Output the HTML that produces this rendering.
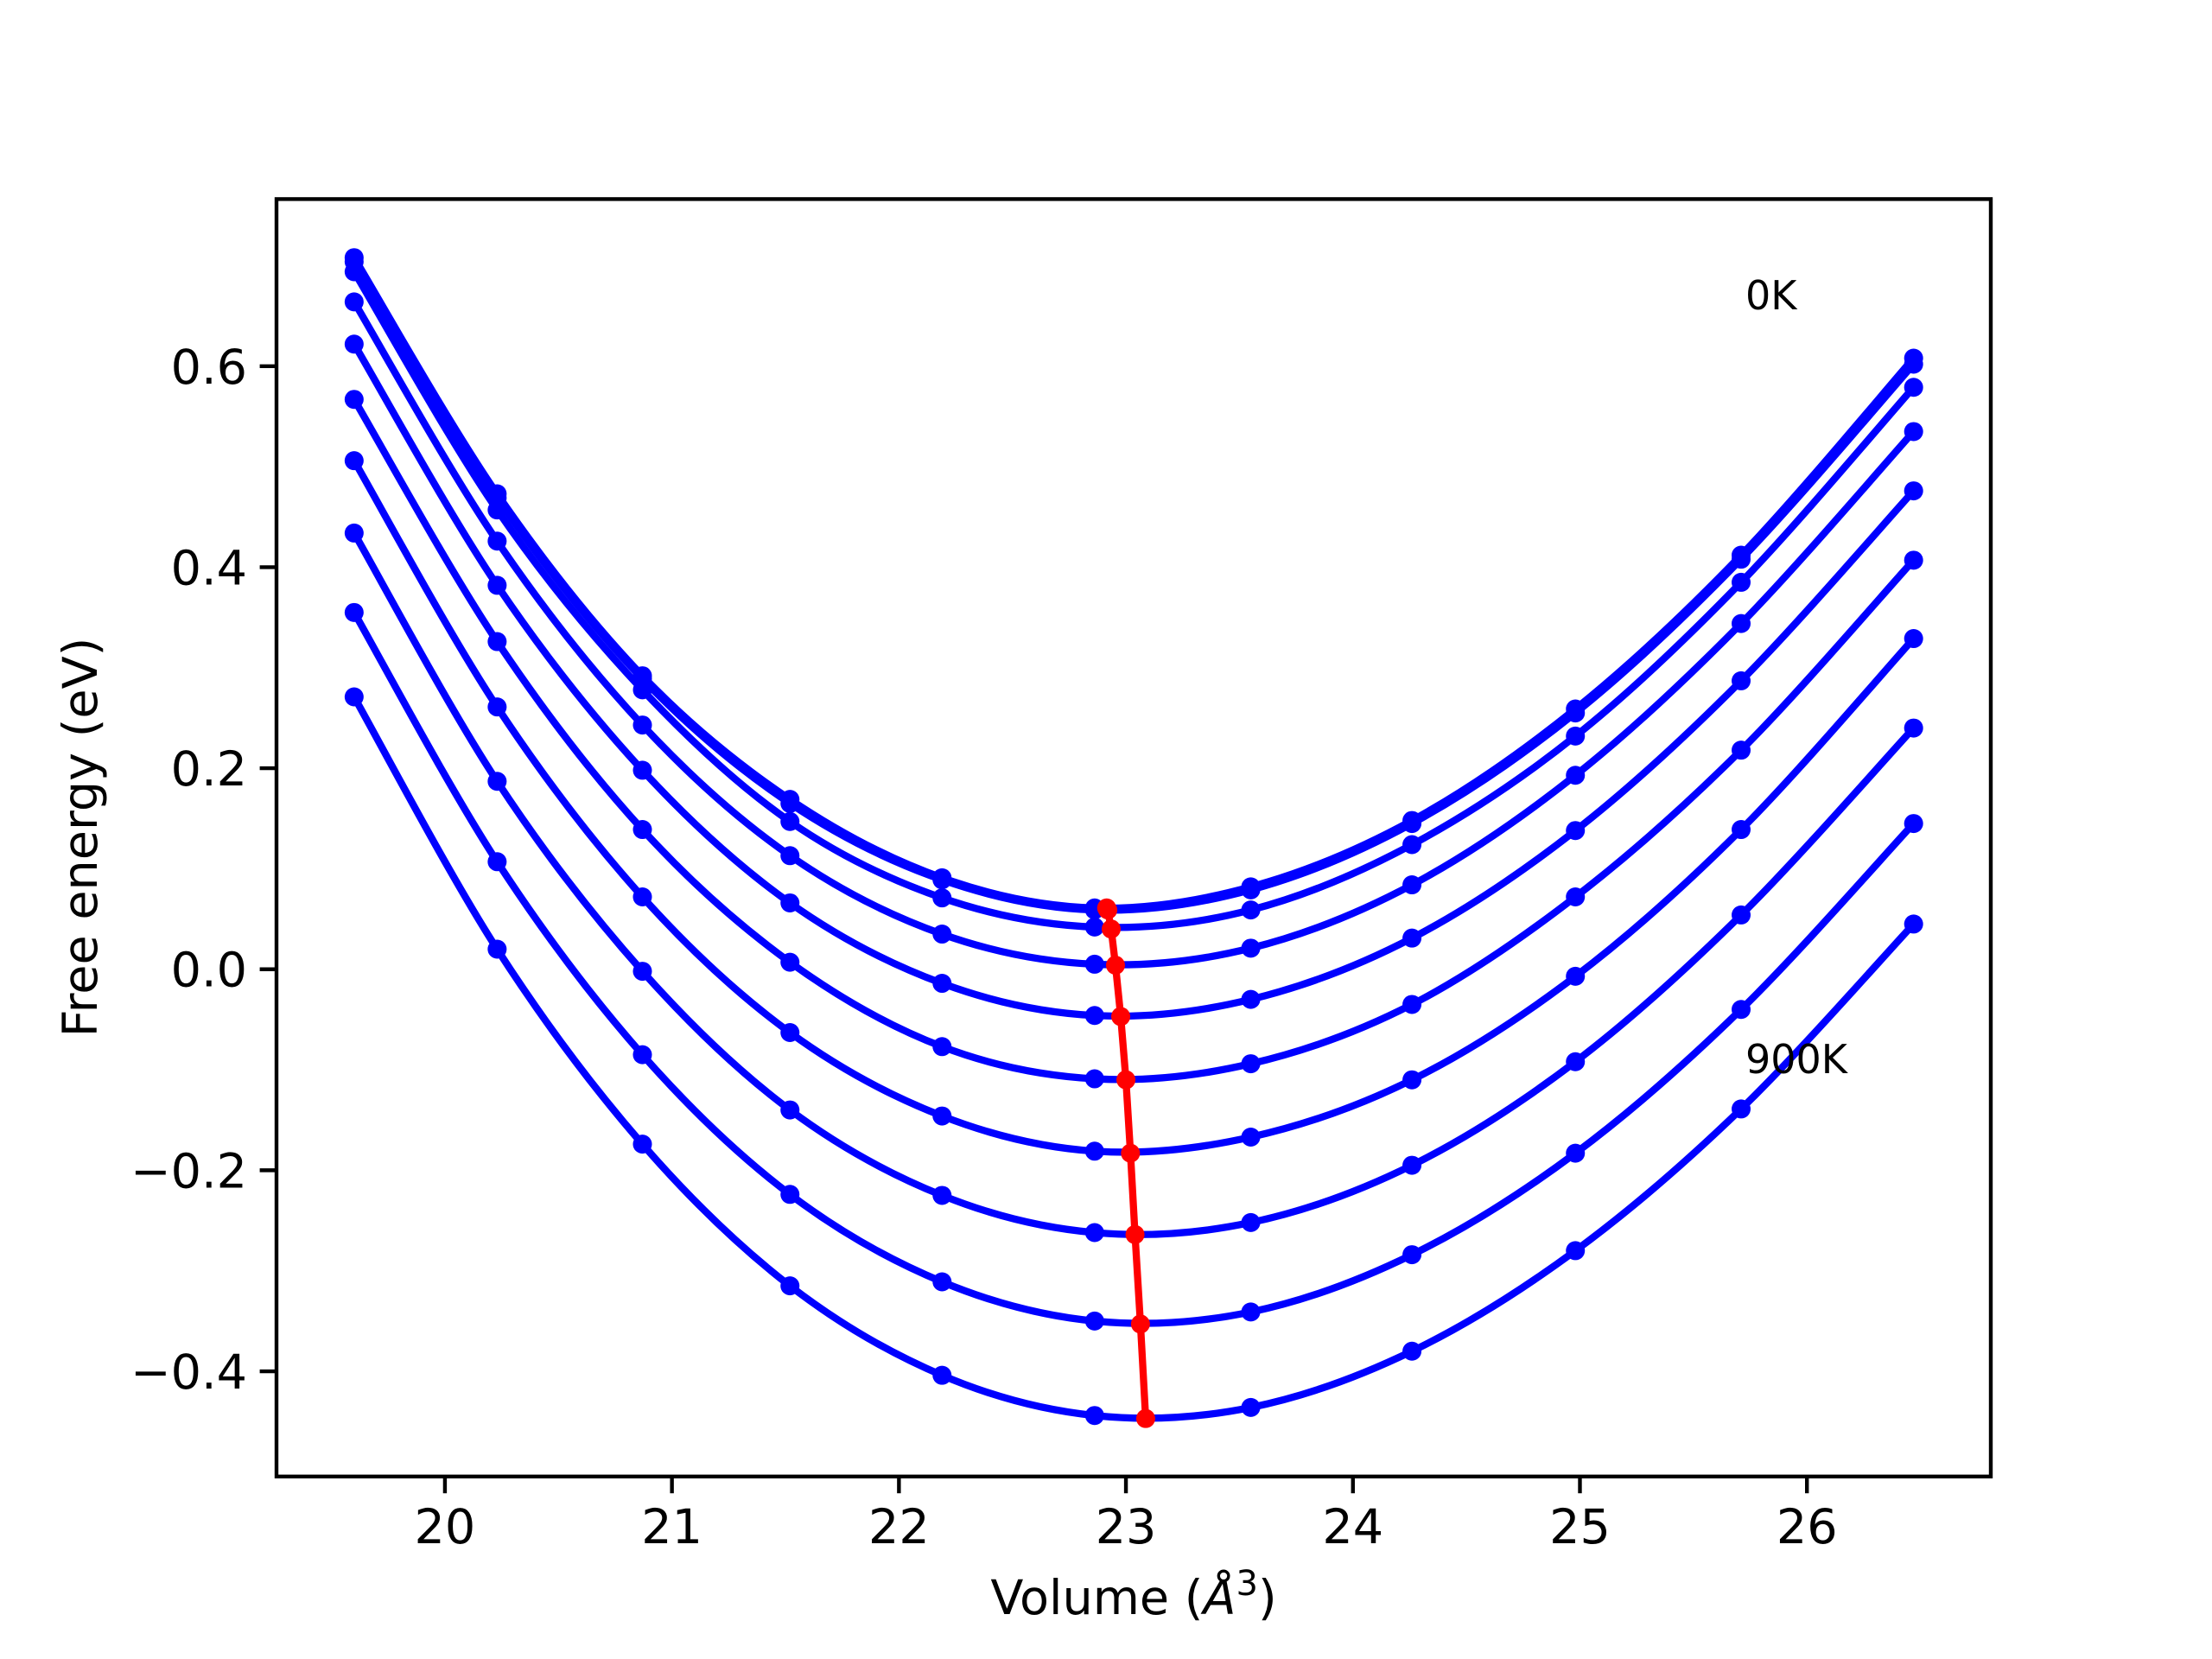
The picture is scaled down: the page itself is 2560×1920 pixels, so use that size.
<!DOCTYPE html>
<html><head><meta charset="utf-8"><style>
html,body{margin:0;padding:0;background:#fff;}
svg{display:block;font-family:"DejaVu Sans","Liberation Sans",sans-serif;}
</style></head><body>
<svg id="chart" width="2560" height="1920" viewBox="0 0 2560 1920" xmlns="http://www.w3.org/2000/svg">
<rect x="0" y="0" width="2560" height="1920" fill="#fff"/>
<g id="plot"></g>
<g id="axes"></g>
</svg>
<script>
const volumes = [19.60, 20.23, 20.87, 21.52, 22.19, 22.862, 23.55, 24.26, 24.98, 25.71, 26.47];
const curve0 = [0.708, 0.473, 0.292, 0.169, 0.091, 0.061, 0.082, 0.148, 0.259, 0.412, 0.608];
const curve1 = [0.704, 0.469, 0.289, 0.165, 0.089, 0.059, 0.079, 0.145, 0.255, 0.408, 0.602];
const curve2 = [0.694, 0.457, 0.278, 0.147, 0.071, 0.042, 0.059, 0.124, 0.232, 0.385, 0.579];
const curve3 = [0.664, 0.426, 0.243, 0.113, 0.035, 0.005, 0.021, 0.084, 0.193, 0.344, 0.535];
const curve4 = [0.622, 0.382, 0.198, 0.066, -0.014, -0.046, -0.030, 0.031, 0.138, 0.287, 0.476];
const curve5 = [0.567, 0.326, 0.139, 0.007, -0.077, -0.109, -0.094, -0.035, 0.072, 0.218, 0.407];
const curve6 = [0.506, 0.261, 0.072, -0.063, -0.146, -0.181, -0.167, -0.110, -0.007, 0.139, 0.329];
const curve7 = [0.434, 0.187, -0.002, -0.140, -0.225, -0.262, -0.252, -0.195, -0.092, 0.054, 0.240];
const curve8 = [0.355, 0.107, -0.085, -0.224, -0.311, -0.350, -0.341, -0.284, -0.183, -0.040, 0.145];
const curve9 = [0.271, 0.020, -0.174, -0.315, -0.404, -0.444, -0.436, -0.380, -0.280, -0.139, 0.045];
const minVolumes = [22.915, 22.92, 22.935, 22.954, 22.977, 23.0, 23.02, 23.04, 23.064, 23.087];
const minEnergies = [0.061, 0.059, 0.040, 0.004, -0.047, -0.110, -0.183, -0.264, -0.353, -0.447];
const xTicks = [20, 21, 22, 23, 24, 25, 26];
const yTicks = [-0.4, -0.2, 0.0, 0.2, 0.4, 0.6];
const yTickLabels = ["\u22120.4", "\u22120.2", "0.0", "0.2", "0.4", "0.6"];
const curves = [curve0, curve1, curve2, curve3, curve4, curve5, curve6, curve7, curve8, curve9];

const AX = {l: 320, r: 2304, t: 230.4, b: 1708.8};
const X0 = 19.258, X1 = 26.810, Y0 = -0.5047, Y1 = 0.7663;
function sx(v){ return AX.l + (v - X0) / (X1 - X0) * (AX.r - AX.l); }
function sy(v){ return AX.b - (v - Y0) / (Y1 - Y0) * (AX.b - AX.t); }
const NS = "http://www.w3.org/2000/svg";
function mk(tag, attrs, parent){ const e = document.createElementNS(NS, tag); for (const k in attrs) e.setAttribute(k, attrs[k]); parent.appendChild(e); return e; }
const plot = document.getElementById('plot');
const axes = document.getElementById('axes');

function smoothPath(pts){
  let d = "M" + pts[0][0].toFixed(2) + "," + pts[0][1].toFixed(2);
  for (let i = 0; i < pts.length - 1; i++){
    const p0 = pts[Math.max(i-1,0)], p1 = pts[i], p2 = pts[i+1], p3 = pts[Math.min(i+2, pts.length-1)];
    const c1x = p1[0] + (p2[0]-p0[0])/6, c1y = p1[1] + (p2[1]-p0[1])/6;
    const c2x = p2[0] - (p3[0]-p1[0])/6, c2y = p2[1] - (p3[1]-p1[1])/6;
    d += " C" + c1x.toFixed(2)+","+c1y.toFixed(2)+" "+c2x.toFixed(2)+","+c2y.toFixed(2)+" "+p2[0].toFixed(2)+","+p2[1].toFixed(2);
  }
  return d;
}

curves.forEach((c, ci) => {
  const pts = c.map((v, i) => [sx(volumes[i]), sy(v)]);
  const p = mk('path', {d: smoothPath(pts), fill: 'none', stroke: '#0000ff', 'stroke-width': 8.3, 'stroke-linejoin': 'round', 'stroke-linecap': 'square'}, plot);
  
  
  c.forEach((v, i) => {
    const m = mk('circle', {cx: sx(volumes[i]), cy: sy(v), r: 11, fill: '#0000ff'}, plot);
    
    
  });
});
const redPts = minVolumes.map((v, i) => sx(v).toFixed(2) + "," + sy(minEnergies[i]).toFixed(2)).join(" ");
const rl = mk('polyline', {points: redPts, fill: 'none', stroke: '#ff0000', 'stroke-width': 8.3, 'stroke-linejoin': 'round'}, plot);


minVolumes.forEach((v, i) => {
  const m = mk('circle', {cx: sx(v), cy: sy(minEnergies[i]), r: 11, fill: '#ff0000'}, plot);
  
  
});

const t0 = mk('text', {x: 2020, y: 358, 'font-size': 46, fill: '#000'}, plot);
t0.textContent = '0K';


const t9 = mk('text', {x: 2020, y: 1242, 'font-size': 46, fill: '#000'}, plot);
t9.textContent = '900K';



xTicks.forEach(v => {
  const x = sx(v);
  const tk = mk('line', {x1: x, x2: x, y1: AX.b, y2: AX.b + 19.4, stroke: '#000', 'stroke-width': 4.4}, axes);
  
  
  const tl = mk('text', {x: x, y: 1786, 'font-size': 55.6, 'text-anchor': 'middle', fill: '#000'}, axes);
  tl.textContent = String(v);
  
  
});
yTicks.forEach((v, i) => {
  const y = sy(v);
  const tk = mk('line', {x1: AX.l - 19.4, x2: AX.l, y1: y, y2: y, stroke: '#000', 'stroke-width': 4.4}, axes);
  
  
  const tl = mk('text', {x: AX.l - 34, y: y + 20, 'font-size': 55.6, 'text-anchor': 'end', fill: '#000'}, axes);
  tl.textContent = yTickLabels[i];
  
  
});
const fr = mk('rect', {x: AX.l, y: AX.t, width: AX.r - AX.l, height: AX.b - AX.t, fill: 'none', stroke: '#000', 'stroke-width': 4.4}, axes);


const xl = mk('text', {x: 1312, y: 1868, 'font-size': 55.6, 'text-anchor': 'middle', fill: '#000'}, axes);
xl.innerHTML = 'Volume (<tspan font-style="italic">Å</tspan><tspan dy="-22" font-size="40">3</tspan><tspan dy="22">)</tspan>';


const yl = mk('text', {x: 0, y: 0, 'font-size': 55.6, 'text-anchor': 'middle', fill: '#000', transform: 'translate(112,969) rotate(-90)'}, axes);
yl.textContent = 'Free energy (eV)';


</script>
</body></html>
